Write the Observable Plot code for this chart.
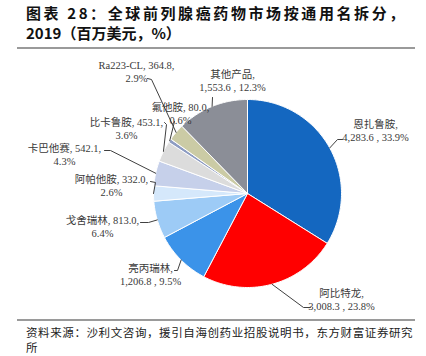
<!DOCTYPE html>
<html><head><meta charset="utf-8">
<script src="https://cdn.jsdelivr.net/npm/d3@7"></script>
<script src="https://cdn.jsdelivr.net/npm/@observablehq/plot@0.6"></script>
<style>
body{margin:0;width:426px;height:356px;position:relative;background:#fff;overflow:hidden}
#chart{position:absolute;left:0;top:0}
.title{position:absolute;left:26px;font:bold 15px/20px "Noto Sans CJK SC";letter-spacing:2.6px;color:#111;white-space:nowrap}
.rule{position:absolute;left:17px;width:398px;height:2px;background:#9a9a9a}
.src{position:absolute;left:26px;font:11.5px/15px "Noto Sans CJK SC";color:#222;letter-spacing:0.6px;white-space:nowrap}
</style></head><body>
<div id="chart"></div>
<div class="title" style="top:3px">图表 28：全球前列腺癌药物市场按通用名拆分，</div>
<div class="title" style="top:23px;letter-spacing:0px">2019（百万美元，%）</div>
<div class="rule" style="top:47px"></div>
<div class="rule" style="top:319px"></div>
<div class="src" style="top:325px">资料来源：沙利文咨询，援引自海创药业招股说明书，东方财富证券研究</div>
<div class="src" style="top:340px">所</div>
<script>
// ---- data ----
const names  = ["恩扎鲁胺","阿比特龙","亮丙瑞林","戈舍瑞林","阿帕他胺","卡巴他赛","比卡鲁胺","氟他胺","Ra223-CL","其他产品"];
const values = [4283.6, 3008.3, 1206.8, 813.0, 332.0, 542.1, 453.1, 80.0, 364.8, 1553.6];
const shares = [33.9, 23.8, 9.5, 6.4, 2.6, 4.3, 3.6, 0.6, 2.9, 12.3];
const valueLabels = ["4,283.6","3,008.3","1,206.8","813.0","332.0","542.1","453.1","80.0","364.8","1,553.6"];
// how the label text breaks into two lines (1 = value on first line)
const valueOnFirstLine = [0,0,0,1,1,1,1,1,1,0];

// ---- style / layout ----
const colors = ["#1467c0","#ff0000","#3b93e9","#9dcbf6","#d5e8fb","#c6d0ea","#dcdcdc","#8d9cc2","#cbcba5","#8b8e97"];
const R = 94;            // pie radius (px units)
const CX = 247, CY = 193; // pie centre on the page
// label block centre (page px) and leader-line points before the slice edge
const labelLayout = [
  {x:375, y:130, pts:[[342,139],[337,139]]},
  {x:341, y:299, pts:[[310,307],[303,307]]},
  {x:150, y:274, pts:[[174,270],[177,270]]},
  {x:102, y:226, pts:[[140,222],[148,222]]},
  {x:111, y:185, pts:[[150,181],[155,182]]},
  {x:64,  y:154, pts:[[104,150],[110,150]]},
  {x:126, y:128, pts:[[164,122],[166,124]]},
  {x:180, y:113, pts:[[174,121]]},
  {x:136, y:71,  pts:[[147,78],[151,79]]},
  {x:232, y:80,  pts:[[212,97]]}
];

const total = d3.sum(values);
const toU = px => px - CX, toV = py => CY - py;

// slice polygons
const slices = [];
const edges = [];
let acc = 0;
names.forEach((name, i) => {
  const a0 = acc / total * 2 * Math.PI;
  acc += values[i];
  const a1 = acc / total * 2 * Math.PI;
  const n = Math.max(2, Math.ceil((a1 - a0) / (Math.PI / 180)));
  slices.push({name, u: 0, v: 0});
  for (let k = 0; k <= n; k++) {
    const a = a0 + (a1 - a0) * k / n;
    slices.push({name, u: R * Math.sin(a), v: R * Math.cos(a)});
  }
  slices.push({name, u: 0, v: 0});
  const am = (a0 + a1) / 2;
  edges.push([R * Math.sin(am), R * Math.cos(am)]);
});

const leaders = [];
labelLayout.forEach((L, i) => {
  L.pts.forEach(p => leaders.push({name: names[i], u: toU(p[0]), v: toV(p[1])}));
  leaders.push({name: names[i], u: edges[i][0], v: edges[i][1]});
});

const labels = names.map((name, i) => {
  const t = valueOnFirstLine[i]
    ? `${name}, ${valueLabels[i]},\n${shares[i].toFixed(1)}%`
    : `${name},\n${valueLabels[i]} , ${shares[i].toFixed(1)}%`;
  return {text: t, u: toU(labelLayout[i].x), v: toV(labelLayout[i].y)};
});

const chart = Plot.plot({
  width: 426, height: 356,
  margin: 0,
  x: {domain: [toU(0), toU(426)], axis: null},
  y: {domain: [toV(356), toV(0)], axis: null},
  color: {domain: names, range: colors},
  marks: [
    Plot.line(slices, {x: "u", y: "v", z: "name", fill: "name", stroke: "white", strokeWidth: 1, curve: "linear"}),
    Plot.line(leaders, {x: "u", y: "v", z: "name", stroke: "#404040", strokeWidth: 1}),
    Plot.text(labels, {x: "u", y: "v", text: "text", textAnchor: "middle", lineAnchor: "middle",
      lineHeight: 1.2, fontSize: 10.5, fill: "#3a3a3a",
      fontFamily: '"Liberation Serif", "Noto Sans CJK SC", serif'})
  ]
});
document.getElementById("chart").appendChild(chart);
</script>
</body></html>
